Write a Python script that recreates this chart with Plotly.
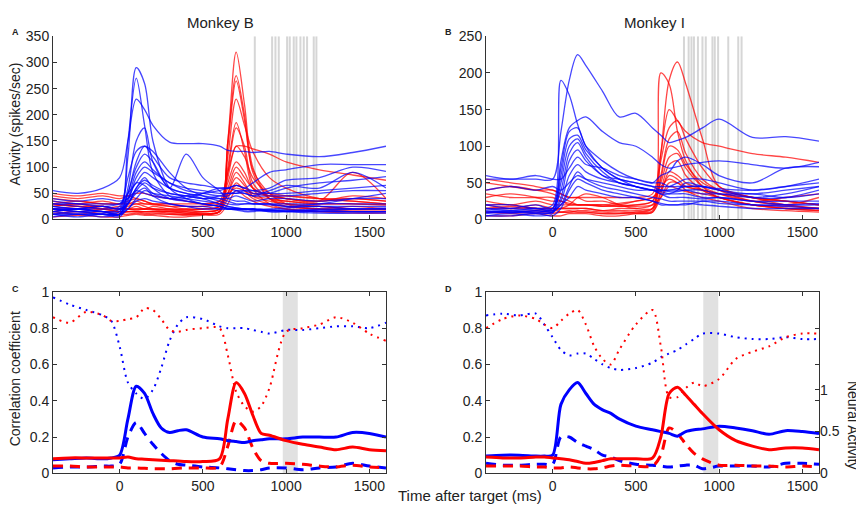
import plotly.graph_objects as go

# ---------------- DATA ----------------
# Top panels: time grid (ms) for single-neuron activity curves
T_TOP = [-400, -250, -100, 0, 50, 100, 150, 200, 300, 400, 500, 600, 650, 700, 750, 800, 900, 1000, 1200, 1400, 1600]

# Monkey B (panel A), spikes/sec
A_BLUE = [
    [55, 50, 60, 80, 150, 230, 210, 180, 148, 145, 145, 140, 132, 130, 130, 128, 130, 125, 120, 128, 140],
    [20, 15, 10, 15, 120, 290, 260, 150, 60, 40, 30, 25, 20, 20, 20, 20, 18, 18, 15, 15, 15],
    [25, 20, 15, 20, 150, 270, 180, 90, 45, 35, 30, 25, 22, 20, 20, 18, 18, 16, 15, 15, 15],
    [15, 20, 15, 10, 60, 150, 175, 110, 60, 50, 40, 30, 25, 22, 20, 18, 15, 15, 18, 20, 20],
    [30, 25, 20, 25, 80, 130, 140, 130, 90, 60, 45, 35, 30, 28, 30, 30, 28, 25, 25, 25, 25],
    [20, 15, 15, 10, 50, 100, 125, 110, 60, 125, 80, 55, 40, 35, 35, 30, 30, 30, 30, 40, 50],
    [20, 20, 15, 15, 50, 110, 140, 120, 80, 70, 65, 60, 60, 65, 60, 70, 90, 95, 105, 105, 105],
    [10, 15, 10, 10, 40, 90, 110, 95, 70, 60, 55, 50, 50, 50, 55, 55, 60, 75, 80, 100, 92],
    [15, 10, 10, 10, 35, 80, 100, 90, 70, 55, 50, 45, 45, 55, 55, 50, 50, 60, 70, 75, 82],
    [30, 30, 25, 30, 50, 70, 90, 80, 60, 50, 45, 40, 35, 30, 30, 30, 30, 25, 30, 30, 30],
    [25, 20, 25, 20, 30, 60, 75, 65, 50, 45, 40, 40, 40, 45, 40, 35, 40, 40, 35, 40, 40],
    [10, 5, 10, 5, 30, 60, 80, 60, 40, 35, 30, 25, 20, 20, 18, 20, 15, 15, 18, 15, 15],
    [35, 30, 30, 30, 40, 70, 65, 50, 40, 40, 50, 60, 60, 55, 50, 45, 45, 45, 50, 55, 55],
    [15, 20, 15, 10, 30, 50, 60, 45, 30, 25, 20, 20, 20, 18, 15, 15, 18, 15, 12, 12, 12],
    [5, 10, 5, 10, 20, 40, 55, 50, 45, 40, 35, 30, 25, 22, 20, 20, 20, 22, 25, 20, 20],
    [20, 20, 25, 20, 30, 55, 70, 60, 50, 45, 40, 45, 50, 50, 50, 45, 55, 65, 60, 90, 60],
    [40, 35, 40, 35, 40, 55, 50, 45, 40, 45, 50, 55, 60, 65, 60, 55, 50, 50, 55, 60, 65],
    [10, 10, 10, 8, 20, 35, 40, 35, 30, 25, 25, 20, 20, 20, 20, 20, 18, 18, 20, 20, 22],
]
A_RED = [
    [30, 25, 20, 20, 20, 20, 20, 18, 15, 15, 10, 15, 150, 320, 220, 100, 40, 25, 20, 15, 15],
    [25, 30, 20, 15, 15, 15, 15, 15, 15, 12, 12, 15, 150, 275, 200, 90, 40, 30, 25, 20, 20],
    [20, 20, 25, 20, 20, 18, 20, 20, 18, 15, 15, 20, 140, 265, 190, 95, 50, 30, 20, 25, 20],
    [40, 35, 30, 30, 30, 35, 30, 30, 25, 20, 20, 25, 120, 230, 180, 130, 80, 60, 40, 35, 30],
    [15, 20, 15, 15, 15, 15, 15, 15, 12, 10, 10, 15, 100, 185, 130, 60, 30, 20, 15, 15, 15],
    [30, 25, 25, 20, 25, 30, 25, 20, 20, 18, 15, 20, 90, 175, 140, 70, 40, 35, 30, 30, 28],
    [45, 40, 45, 40, 45, 50, 50, 45, 40, 35, 30, 35, 90, 140, 140, 135, 125, 110, 95, 85, 75],
    [20, 15, 20, 15, 15, 15, 15, 15, 15, 12, 15, 20, 80, 140, 120, 80, 50, 40, 35, 40, 35],
    [25, 30, 25, 20, 20, 25, 20, 25, 20, 20, 20, 25, 70, 110, 90, 60, 45, 40, 35, 90, 40],
    [35, 30, 35, 30, 35, 40, 35, 30, 30, 25, 25, 30, 60, 100, 80, 60, 45, 45, 40, 35, 30],
    [10, 15, 10, 10, 10, 12, 10, 10, 10, 8, 10, 15, 50, 90, 70, 45, 35, 30, 25, 20, 18],
    [20, 25, 20, 25, 20, 20, 20, 20, 18, 18, 20, 25, 50, 80, 65, 50, 50, 45, 40, 40, 35],
    [15, 10, 15, 10, 15, 15, 12, 12, 10, 10, 10, 15, 40, 70, 55, 40, 30, 25, 20, 18, 20],
    [50, 45, 50, 45, 45, 40, 35, 30, 30, 30, 30, 35, 50, 60, 55, 45, 40, 35, 30, 30, 28],
    [5, 8, 5, 5, 8, 10, 8, 8, 5, 5, 8, 10, 30, 55, 45, 35, 25, 20, 15, 12, 12],
    [30, 35, 30, 30, 30, 30, 30, 28, 25, 25, 25, 30, 45, 65, 60, 50, 45, 40, 35, 45, 40],
]

# Monkey I (panel B), spikes/sec
B_BLUE = [
    [55, 55, 55, 55, 120, 190, 225, 210, 175, 140, 145, 125, 115, 105, 108, 112, 125, 137, 112, 113, 107],
    [20, 15, 15, 20, 190, 170, 130, 100, 70, 55, 45, 40, 38, 35, 35, 35, 30, 30, 25, 20, 20],
    [10, 10, 10, 15, 80, 125, 135, 140, 120, 105, 100, 85, 75, 70, 72, 75, 78, 80, 75, 70, 78],
    [15, 15, 20, 15, 70, 120, 125, 100, 80, 65, 55, 50, 60, 65, 80, 85, 75, 60, 50, 70, 72],
    [10, 12, 10, 10, 60, 110, 115, 95, 70, 55, 50, 45, 45, 45, 50, 55, 55, 50, 40, 45, 55],
    [5, 8, 5, 8, 50, 100, 110, 90, 65, 50, 45, 40, 40, 40, 42, 45, 45, 40, 30, 30, 40],
    [20, 20, 15, 15, 40, 90, 105, 85, 60, 55, 50, 45, 40, 40, 40, 40, 35, 35, 30, 35, 45],
    [15, 12, 15, 12, 30, 80, 95, 80, 60, 50, 45, 40, 40, 38, 38, 40, 40, 35, 35, 30, 35],
    [60, 55, 60, 55, 55, 70, 85, 75, 70, 60, 55, 50, 50, 45, 45, 45, 45, 42, 40, 45, 50],
    [8, 10, 8, 10, 25, 60, 75, 65, 55, 50, 45, 40, 35, 30, 30, 30, 28, 30, 25, 25, 25],
    [12, 10, 12, 12, 20, 45, 65, 55, 45, 40, 35, 30, 28, 25, 25, 25, 25, 22, 20, 20, 22],
    [5, 5, 8, 5, 15, 40, 55, 50, 40, 35, 30, 25, 20, 20, 20, 22, 20, 18, 15, 15, 15],
    [40, 45, 40, 45, 40, 50, 60, 55, 50, 45, 40, 40, 35, 35, 40, 50, 45, 40, 35, 40, 45],
    [10, 10, 12, 10, 20, 30, 45, 40, 35, 30, 30, 25, 22, 20, 20, 20, 25, 25, 20, 18, 15],
]
B_RED = [
    [15, 15, 15, 15, 10, 10, 12, 12, 10, 10, 10, 15, 200, 185, 120, 80, 45, 30, 20, 15, 15],
    [20, 20, 15, 15, 15, 15, 15, 15, 12, 12, 12, 15, 90, 190, 215, 185, 110, 45, 30, 20, 15],
    [50, 45, 40, 40, 35, 30, 30, 30, 30, 30, 30, 35, 90, 150, 135, 120, 105, 100, 90, 85, 78],
    [55, 50, 45, 40, 35, 30, 30, 25, 25, 20, 20, 25, 80, 125, 135, 110, 70, 45, 30, 25, 20],
    [10, 10, 12, 10, 10, 10, 10, 10, 8, 8, 10, 12, 60, 110, 120, 90, 55, 40, 25, 20, 15],
    [20, 15, 20, 15, 15, 15, 15, 15, 12, 15, 15, 20, 55, 100, 95, 75, 50, 40, 30, 25, 20],
    [30, 35, 30, 25, 25, 20, 20, 20, 18, 18, 20, 25, 50, 85, 90, 70, 45, 35, 25, 30, 35],
    [5, 5, 8, 5, 5, 8, 8, 8, 5, 5, 8, 10, 40, 75, 80, 60, 40, 30, 20, 15, 12],
    [15, 18, 15, 12, 15, 20, 30, 35, 30, 20, 15, 15, 35, 65, 60, 50, 40, 30, 20, 18, 15],
    [40, 45, 40, 35, 30, 25, 20, 20, 18, 20, 25, 30, 40, 60, 55, 45, 40, 35, 25, 20, 30],
    [10, 8, 10, 8, 10, 12, 10, 10, 8, 8, 8, 10, 30, 50, 50, 40, 30, 25, 15, 12, 10],
    [25, 20, 25, 20, 20, 20, 20, 20, 20, 18, 18, 20, 30, 45, 42, 38, 35, 30, 20, 15, 12],
    [35, 30, 30, 30, 25, 22, 20, 20, 20, 22, 25, 30, 45, 55, 50, 45, 40, 35, 30, 25, 20],
]

# Event times (ms) shown as grey vertical lines
A_EVENTS = [812, 916, 936, 956, 1006, 1022, 1046, 1062, 1086, 1106, 1126, 1166, 1182]
B_EVENTS = [789, 817, 834, 849, 873, 900, 920, 960, 974, 994, 1055, 1115, 1135]

# Bottom panels: correlation coefficients
T_BOT = [-400, -300, -200, -100, -50, 0, 50, 100, 150, 200, 250, 300, 350, 400, 500, 600,
         650, 700, 750, 800, 850, 900, 1000, 1100, 1200, 1300, 1400, 1500, 1600]

C_BLUE_SOLID = [0.075, 0.08, 0.085, 0.08, 0.085, 0.1, 0.3, 0.48, 0.44, 0.33, 0.25, 0.225, 0.235, 0.24, 0.2, 0.19,
                0.18, 0.175, 0.17, 0.18, 0.185, 0.19, 0.19, 0.2, 0.2, 0.2, 0.225, 0.22, 0.2]
C_BLUE_DASH = [0.03, 0.035, 0.035, 0.04, 0.04, 0.05, 0.2, 0.28, 0.22, 0.16, 0.11, 0.07, 0.05, 0.045, 0.035, 0.03,
               0.025, 0.02, 0.015, 0.015, 0.02, 0.03, 0.03, 0.02, 0.03, 0.035, 0.055, 0.04, 0.03]
C_BLUE_DOT = [0.97, 0.93, 0.9, 0.87, 0.84, 0.7, 0.5, 0.44, 0.41, 0.46, 0.58, 0.73, 0.82, 0.86, 0.85, 0.81,
              0.8, 0.8, 0.8, 0.79, 0.78, 0.77, 0.79, 0.79, 0.8, 0.81, 0.81, 0.8, 0.83]
C_RED_SOLID = [0.08, 0.085, 0.085, 0.085, 0.085, 0.085, 0.09, 0.08, 0.078, 0.075, 0.072, 0.07, 0.068, 0.065, 0.065, 0.08,
               0.3, 0.5, 0.44, 0.32, 0.22, 0.21, 0.18, 0.16, 0.145, 0.13, 0.145, 0.13, 0.125]
C_RED_DASH = [0.04, 0.04, 0.035, 0.035, 0.035, 0.035, 0.03, 0.03, 0.028, 0.025, 0.025, 0.025, 0.028, 0.03, 0.03, 0.035,
              0.15, 0.29, 0.25, 0.14, 0.07, 0.055, 0.055, 0.05, 0.04, 0.035, 0.045, 0.035, 0.03]
C_RED_DOT = [0.86, 0.83, 0.89, 0.87, 0.84, 0.84, 0.85, 0.86, 0.91, 0.9, 0.85, 0.79, 0.78, 0.79, 0.8, 0.8,
             0.65, 0.45, 0.37, 0.34, 0.37, 0.47, 0.78, 0.8, 0.82, 0.86, 0.83, 0.77, 0.73]

D_BLUE_SOLID = [0.095, 0.1, 0.1, 0.095, 0.095, 0.1, 0.38, 0.46, 0.5, 0.44, 0.38, 0.35, 0.33, 0.3, 0.26, 0.24,
                0.23, 0.22, 0.205, 0.23, 0.24, 0.245, 0.26, 0.25, 0.235, 0.215, 0.235, 0.23, 0.22]
D_BLUE_DASH = [0.055, 0.045, 0.045, 0.05, 0.05, 0.05, 0.2, 0.2, 0.17, 0.15, 0.13, 0.1, 0.09, 0.07, 0.05, 0.045,
               0.04, 0.035, 0.04, 0.045, 0.045, 0.025, 0.04, 0.04, 0.04, 0.035, 0.055, 0.055, 0.05]
D_BLUE_DOT = [0.87, 0.88, 0.87, 0.88, 0.82, 0.75, 0.68, 0.65, 0.66, 0.66, 0.63, 0.6, 0.58, 0.57, 0.58, 0.61,
              0.64, 0.66, 0.68, 0.71, 0.74, 0.77, 0.77, 0.75, 0.74, 0.74, 0.75, 0.74, 0.74]
D_RED_SOLID = [0.09, 0.085, 0.085, 0.09, 0.09, 0.085, 0.08, 0.075, 0.065, 0.055, 0.06, 0.07, 0.08, 0.08, 0.08, 0.085,
               0.2, 0.44, 0.475, 0.43, 0.38, 0.33, 0.24, 0.18, 0.15, 0.13, 0.14, 0.14, 0.13]
D_RED_DASH = [0.04, 0.04, 0.04, 0.035, 0.035, 0.03, 0.03, 0.035, 0.03, 0.025, 0.025, 0.03, 0.04, 0.045, 0.04, 0.04,
              0.1, 0.25, 0.22, 0.16, 0.11, 0.08, 0.045, 0.045, 0.04, 0.04, 0.035, 0.04, 0.035]
D_RED_DOT = [0.8, 0.85, 0.87, 0.85, 0.82, 0.8, 0.84, 0.88, 0.9, 0.82, 0.7, 0.63, 0.6, 0.68, 0.82, 0.9,
             0.7, 0.42, 0.42, 0.47, 0.5, 0.48, 0.52, 0.63, 0.67, 0.7, 0.75, 0.77, 0.77]

# Grey analysis windows in bottom panels (ms)
C_WINDOW = [980, 1070]
D_WINDOW = [905, 995]

X_TICKS = [0, 500, 1000, 1500]
A_YTICKS = [0, 50, 100, 150, 200, 250, 300, 350]
B_YTICKS = [0, 50, 100, 150, 200, 250]
CORR_TICKS = [0, 0.2, 0.4, 0.6, 0.8, 1]
CORR_LABELS = ["0", "0.2", "0.4", "0.6", "0.8", "1"]
NEURAL_TICKS = [0, 0.5, 1]

# ---------------- FIGURE ----------------
BLUE = "rgba(0,0,255,0.72)"
RED = "rgba(255,0,0,0.72)"
BLUE_B = "#0000ff"
RED_B = "#ff0000"
GREY = "rgba(200,200,200,0.75)"
FONT = "Liberation Sans, Arial, Helvetica, sans-serif"

W, H = 864, 515
OFF = 8  # page body margin of the html page


def px(x):
    return (x - OFF) / W


def py(y):
    return 1 - (y - OFF) / H


fig = go.Figure()


def events_trace(events, ymax, xa, ya):
    xs, ys = [], []
    for t in events:
        xs += [t, t, None]
        ys += [0, ymax, None]
    return go.Scatter(x=xs, y=ys, mode="lines", line=dict(color=GREY, width=2),
                      xaxis=xa, yaxis=ya, hoverinfo="skip", showlegend=False)


fig.add_trace(events_trace(A_EVENTS, 350, "x", "y"))
fig.add_trace(events_trace(B_EVENTS, 250, "x2", "y2"))

for series, col, xa, ya in [(A_RED, RED, "x", "y"), (A_BLUE, BLUE, "x", "y"),
                            (B_RED, RED, "x2", "y2"), (B_BLUE, BLUE, "x2", "y2")]:
    for vals in series:
        fig.add_trace(go.Scatter(x=T_TOP, y=vals, mode="lines",
                                 line=dict(color=col, width=1.3, shape="spline", smoothing=0.9),
                                 xaxis=xa, yaxis=ya, showlegend=False, hoverinfo="skip"))

bottom = [
    ("x3", "y3", C_BLUE_DOT, BLUE_B, "dot"), ("x3", "y3", C_RED_DOT, RED_B, "dot"),
    ("x3", "y3", C_BLUE_DASH, BLUE_B, "dash"), ("x3", "y3", C_RED_DASH, RED_B, "dash"),
    ("x3", "y3", C_BLUE_SOLID, BLUE_B, "solid"), ("x3", "y3", C_RED_SOLID, RED_B, "solid"),
    ("x4", "y4", D_BLUE_DOT, BLUE_B, "dot"), ("x4", "y4", D_RED_DOT, RED_B, "dot"),
    ("x4", "y4", D_BLUE_DASH, BLUE_B, "dash"), ("x4", "y4", D_RED_DASH, RED_B, "dash"),
    ("x4", "y4", D_BLUE_SOLID, BLUE_B, "solid"), ("x4", "y4", D_RED_SOLID, RED_B, "solid"),
]
for xa, ya, vals, col, style in bottom:
    if style == "solid":
        ln = dict(color=col, width=3, shape="spline", smoothing=0.8)
    elif style == "dash":
        ln = dict(color=col, width=3, dash="10px,7px", shape="spline", smoothing=0.8)
    else:
        ln = dict(color=col, width=2, dash="2px,5px", shape="spline", smoothing=0.8)
    fig.add_trace(go.Scatter(x=T_BOT, y=vals, mode="lines", line=ln, xaxis=xa, yaxis=ya,
                             showlegend=False, hoverinfo="skip"))

# invisible trace to activate the right axis of panel D
fig.add_trace(go.Scatter(x=[None], y=[None], xaxis="x4", yaxis="y5", showlegend=False))

for xref, yref, win in [("x3", "y3 domain", C_WINDOW), ("x4", "y4 domain", D_WINDOW)]:
    fig.add_shape(type="rect", xref=xref, yref=yref, x0=win[0], x1=win[1], y0=0, y1=1,
                  fillcolor="rgb(225,225,225)", line=dict(width=0), layer="below")

xa_dom = [px(53), px(386)]
xb_dom = [px(486), px(819)]
top_dom = [py(218), py(29)]
bot_dom = [py(480), py(292.7)]

tickfont = dict(family=FONT, size=14, color="#222")
common_x = dict(range=[-400, 1600], tickvals=X_TICKS, ticks="inside", ticklen=4,
                showline=True, linecolor="#333", linewidth=1, showgrid=False, zeroline=False,
                tickfont=tickfont, tickcolor="#333")
common_y = dict(ticks="inside", ticklen=4, showline=True, linecolor="#333", linewidth=1,
                showgrid=False, zeroline=False, tickfont=tickfont, tickcolor="#333")

fig.update_layout(
    width=W, height=H, margin=dict(l=0, r=0, t=0, b=0),
    paper_bgcolor="white", plot_bgcolor="white", showlegend=False,
    font=dict(family=FONT, color="#222"),
    xaxis=dict(domain=xa_dom, anchor="y", **common_x),
    yaxis=dict(domain=top_dom, anchor="x", range=[0, 350], tickvals=A_YTICKS, **common_y),
    xaxis2=dict(domain=xb_dom, anchor="y2", **common_x),
    yaxis2=dict(domain=top_dom, anchor="x2", range=[0, 250], tickvals=B_YTICKS, **common_y),
    xaxis3=dict(domain=xa_dom, anchor="y3", mirror="ticks", **common_x),
    yaxis3=dict(domain=bot_dom, anchor="x3", range=[0, 1], tickvals=CORR_TICKS, ticktext=CORR_LABELS,
                mirror="ticks", **common_y),
    xaxis4=dict(domain=xb_dom, anchor="y4", mirror="ticks", **common_x),
    yaxis4=dict(domain=bot_dom, anchor="x4", range=[0, 1], tickvals=CORR_TICKS, ticktext=CORR_LABELS,
                mirror="ticks", **common_y),
    yaxis5=dict(overlaying="y4", side="right", anchor="x4", range=[0, 2.17], tickvals=NEURAL_TICKS,
                ticktext=["0", "0.5", "1"], ticks="inside", ticklen=4, showline=False, showgrid=False,
                zeroline=False, tickfont=tickfont, tickcolor="#333"),
)


def ann(text, x, y, size=14, angle=0, bold=False):
    fig.add_annotation(text=f"<b>{text}</b>" if bold else text, x=px(x), y=py(y), xref="paper", yref="paper",
                       showarrow=False, textangle=angle, xanchor="center", yanchor="middle",
                       font=dict(family=FONT, size=size, color="#222"))


ann("Monkey B", 220, 15, size=15)
ann("Monkey I", 654, 15, size=15)
ann("A", 15, 24, size=9, bold=True)
ann("B", 449, 24, size=9, bold=True)
ann("C", 15, 290, size=9, bold=True)
ann("D", 449, 290, size=9, bold=True)
ann("Activity (spikes/sec)", 15, 120, size=14, angle=-90)
ann("Correlation coefficient", 15, 383, size=14, angle=-90)
ann("Time after target (ms)", 470, 503, size=15)
ann("Neural Activity", 853, 430, size=14, angle=90)

fig.write_html("out.html")
